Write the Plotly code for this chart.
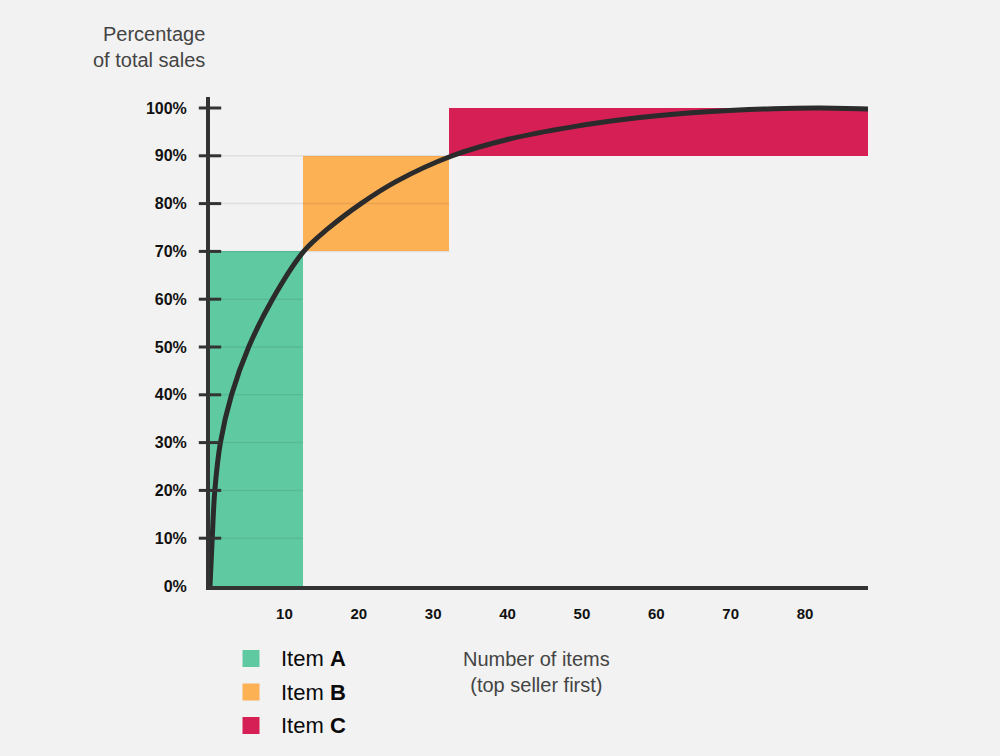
import plotly.graph_objects as go

# ---------------- data ----------------
item_names = ["A", "B", "C"]
item_colors = ["#5fcaa2", "#fdb155", "#d61f55"]
band_x_start = [0, 12.5, 32.2]
band_x_end = [12.5, 32.2, 88.47]
band_y_low = [0, 70, 90]
band_y_high = [70, 90, 100]

curve_x = [0, 0.3, 0.65, 1.4, 2.9, 5.2, 8.4, 12.6, 15.9, 20.3, 25.0, 32.4, 40.0, 48.9, 57.8, 66.8, 75.7, 82.0, 88.47]
curve_y = [0, 10, 20, 30, 40, 50, 60, 70, 74.8, 80, 84.6, 89.9, 93.4, 96.1, 98.0, 99.2, 99.85, 100, 99.8]

y_ticks = [0, 10, 20, 30, 40, 50, 60, 70, 80, 90, 100]
y_tick_labels = [f"{v}%" for v in y_ticks]
x_ticks = [10, 20, 30, 40, 50, 60, 70, 80]
x_tick_labels = [str(v) for v in x_ticks]

# ---------------- figure ----------------
W, H = 1000, 756
ML, MR, MT, MB = 210, 132, 97, 170
PW, PH = W - ML - MR, H - MT - MB


def px_x(p):
    return (p - ML) / PW


def px_y(p):
    return (H - MB - p) / PH


fig = go.Figure()

for name, col, x0, x1, y0, y1 in zip(item_names, item_colors, band_x_start, band_x_end, band_y_low, band_y_high):
    fig.add_trace(go.Bar(
        x=[(x0 + x1) / 2], width=[x1 - x0], base=[y0], y=[y1 - y0],
        marker=dict(color=col, line=dict(width=0)), name="Item " + name,
        showlegend=False, hoverinfo="skip"))

# faint gridlines inside the bands
gx, gy = [], []
for v in y_ticks[1:-1]:
    end = band_x_end[0] if v < band_y_high[0] else band_x_end[1]
    gx += [0, end, None]
    gy += [v, v, None]
fig.add_trace(go.Scatter(x=gx, y=gy, mode="lines", line=dict(color="rgba(0,0,0,0.08)", width=1.5),
                         showlegend=False, hoverinfo="skip"))

# cumulative curve
fig.add_trace(go.Scatter(x=curve_x, y=curve_y, mode="lines",
                         line=dict(color="#2b2b2b", width=5, shape="spline", smoothing=1.0),
                         showlegend=False, hoverinfo="skip"))

# y tick crosses
fig.add_trace(go.Scatter(x=[0] * len(y_ticks[1:]), y=y_ticks[1:], mode="markers",
                         marker=dict(symbol="line-ew", size=16, line=dict(width=3, color="#333333")),
                         cliponaxis=False, showlegend=False, hoverinfo="skip"))

y_tick_font = dict(family="Liberation Sans, Arial, sans-serif", size=16, color="#111111", weight="bold")
x_tick_font = dict(family="Liberation Sans, Arial, sans-serif", size=15, color="#111111", weight="bold")

fig.update_layout(
    width=W, height=H,
    margin=dict(l=ML, r=MR, t=MT, b=MB),
    paper_bgcolor="#f2f2f2", plot_bgcolor="#f2f2f2",
    barmode="overlay", bargap=0,
    xaxis=dict(range=[0, 88.47], showline=True, linewidth=4, linecolor="#333333", showgrid=False, zeroline=False,
               tickvals=x_ticks, ticktext=x_tick_labels, ticks="", tickfont=x_tick_font, ticklabelstandoff=11),
    yaxis=dict(range=[0, 102.3], showline=True, linewidth=4, linecolor="#333333", showgrid=False, zeroline=False,
               tickvals=y_ticks, ticktext=y_tick_labels, ticks="", tickfont=y_tick_font, ticklabelstandoff=16),
)

title_font = dict(family="Liberation Sans, Arial, sans-serif", size=20, color="#444444")
annotations = [
    dict(text="Percentage<br>of total sales", x=px_x(207), y=px_y(46.5), xref="paper", yref="paper",
         xanchor="right", yanchor="middle", align="right", showarrow=False, font=title_font),
    dict(text="Number of items<br>(top seller first)", x=px_x(536), y=px_y(672), xref="paper", yref="paper",
         xanchor="center", yanchor="middle", align="center", showarrow=False, font=title_font),
]
shapes = []
leg_rows = [658.5, 692, 725.5]
for name, col, yc in zip(item_names, item_colors, leg_rows):
    shapes.append(dict(type="rect", xref="paper", yref="paper", x0=px_x(242.5), x1=px_x(259.5),
                       y0=px_y(yc + 8.5), y1=px_y(yc - 8.5), fillcolor=col, line=dict(width=0)))
    annotations.append(dict(text="Item <b>" + name + "</b>", x=px_x(279), y=px_y(yc), xref="paper", yref="paper",
                            xanchor="left", yanchor="middle", showarrow=False,
                            font=dict(family="Liberation Sans, Arial, sans-serif", size=22, color="#0a0a0a")))

fig.update_layout(annotations=annotations, shapes=shapes)

fig.write_html("out.html", config={"displayModeBar": False},
               post_script="document.body.style.margin='0px';document.body.style.background='#f2f2f2';")
